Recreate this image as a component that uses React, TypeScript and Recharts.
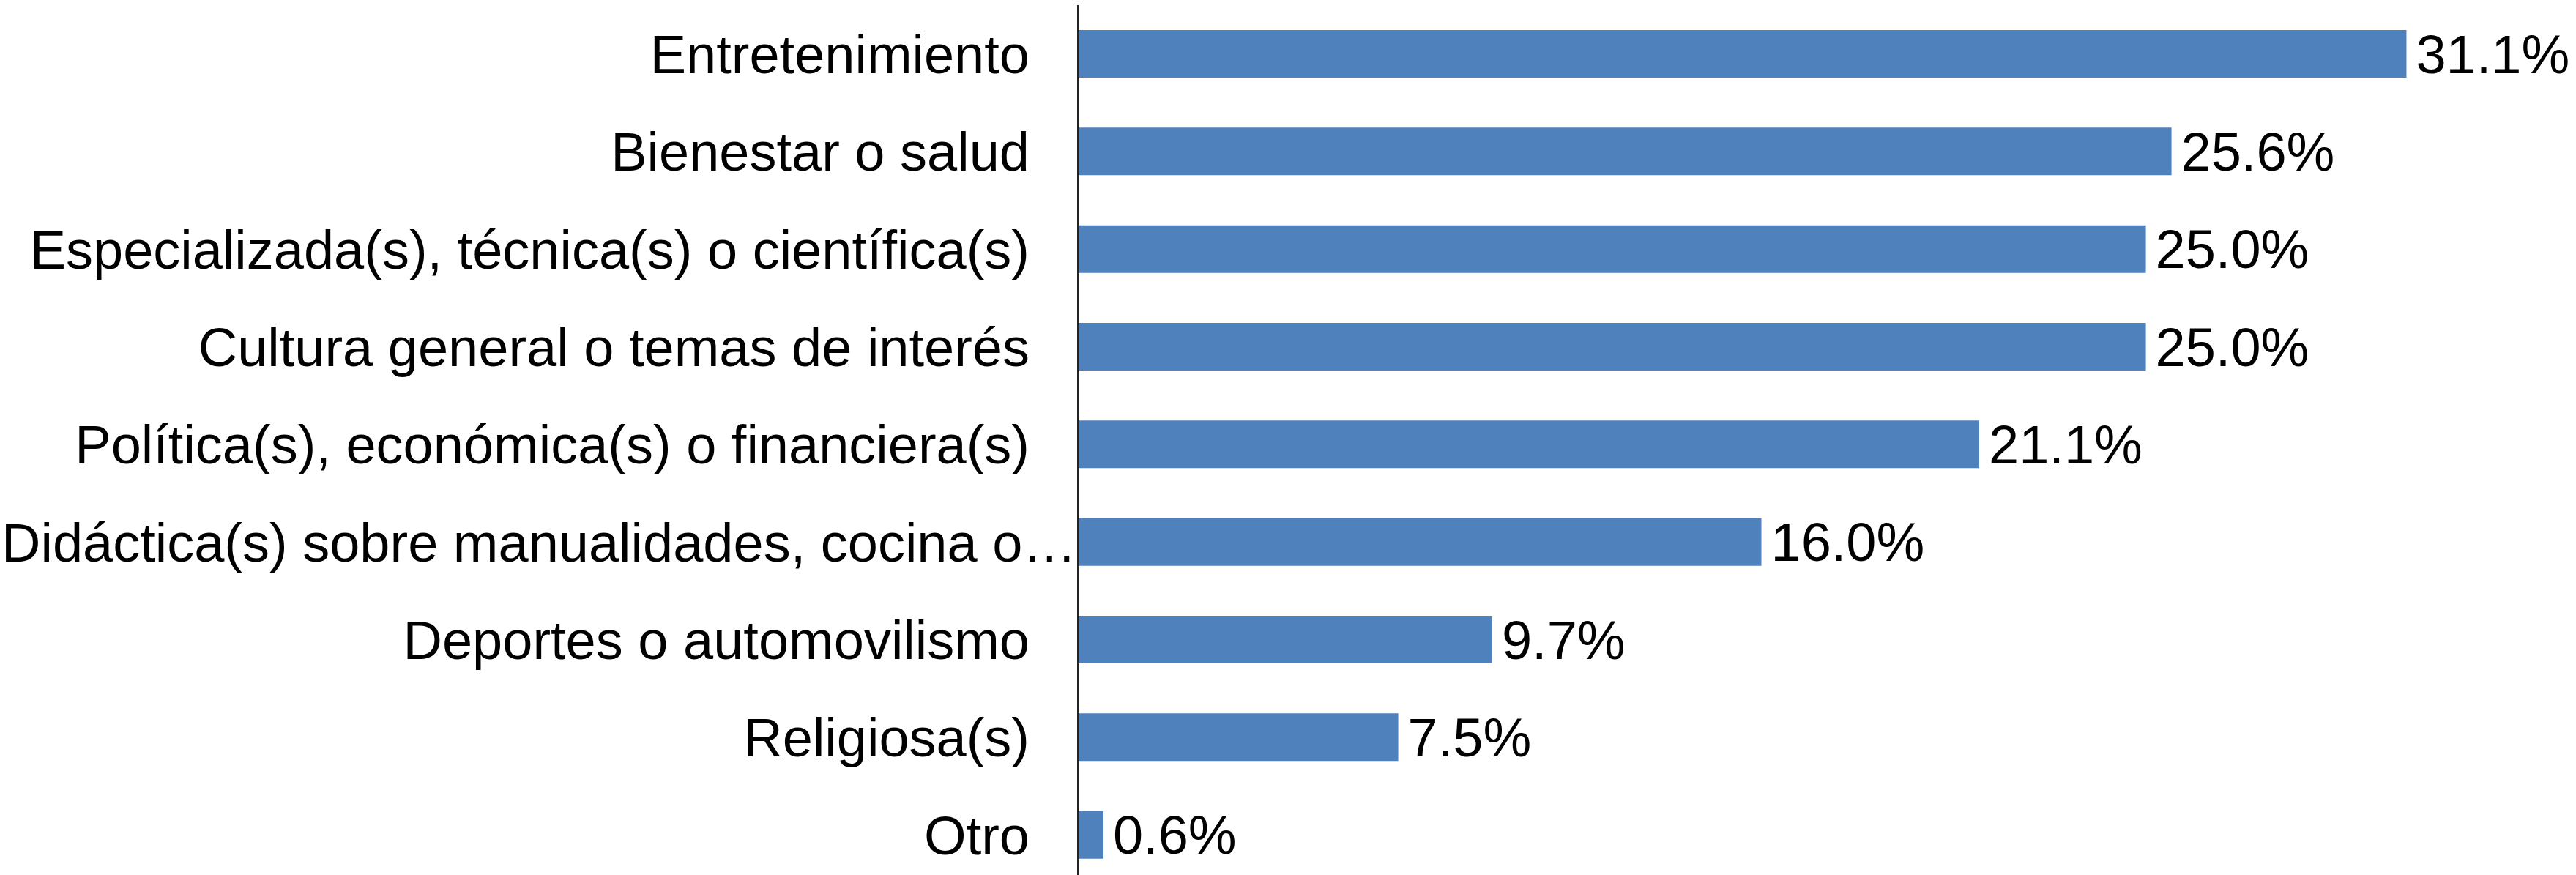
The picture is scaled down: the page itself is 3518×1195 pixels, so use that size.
import { BarChart, Bar, XAxis, YAxis, LabelList } from "recharts";

const categories = [
  "Entretenimiento",
  "Bienestar o salud",
  "Especializada(s), técnica(s) o científica(s)",
  "Cultura general o temas de interés",
  "Política(s), económica(s) o financiera(s)",
  "Didáctica(s) sobre manualidades, cocina o…",
  "Deportes o automovilismo",
  "Religiosa(s)",
  "Otro",
];

const percentages = [31.1, 25.6, 25.0, 25.0, 21.1, 16.0, 9.7, 7.5, 0.6];

const xDomain = [0, 35];

const chartData = categories.map((name, i) => ({ name, value: percentages[i] }));

const BLUE = "#4F81BD";
const FONT = "'Liberation Sans', Arial, sans-serif";

// labels are right aligned next to the axis, the cut one starts at the left edge
const CategoryTick = (props: any) => {
  const { x, y, payload } = props;
  const label: string = payload.value;
  const cut = label.endsWith("…");
  return (
    <text
      x={cut ? 2 : x}
      y={y}
      dy="0.355em"
      textAnchor={cut ? "start" : "end"}
      fontFamily={FONT}
      fontSize={74}
      fill="#000"
    >
      {label}
    </text>
  );
};

export default function App() {
  return (
    <div
      style={{
        position: "fixed",
        left: 0,
        top: 0,
        width: 3518,
        height: 1195,
        overflow: "hidden",
        background: "#fff",
      }}
    >
      <BarChart
        width={3518}
        height={1210}
        data={chartData}
        layout="vertical"
        margin={{ top: 7, right: 4, bottom: 3, left: 0 }}
        barCategoryGap={0}
      >
        <XAxis type="number" domain={xDomain} hide />
        <YAxis
          type="category"
          dataKey="name"
          width={1472}
          tickLine={false}
          tickSize={0}
          tickMargin={66}
          axisLine={{ stroke: "#222", strokeWidth: 2 }}
          tick={<CategoryTick />}
          interval={0}
        />
        <Bar dataKey="value" fill={BLUE} barSize={65} isAnimationActive={false}>
          <LabelList
            dataKey="value"
            position="right"
            offset={13}
            formatter={(v: any) => `${Number(v).toFixed(1)}%`}
            style={{ fontFamily: FONT, fontSize: 74, fill: "#000" }}
          />
        </Bar>
      </BarChart>
    </div>
  );
}
